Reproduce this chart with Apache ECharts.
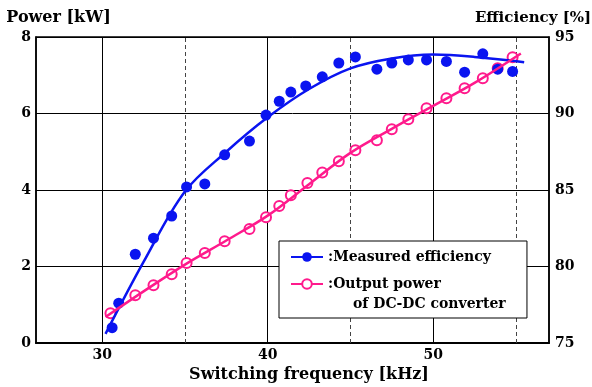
<!DOCTYPE html>
<html>
<head>
<meta charset="utf-8">
<script src="https://cdn.jsdelivr.net/npm/echarts@6/dist/echarts.min.js"></script>
<style>
  html, body { margin: 0; padding: 0; background: #fff; }
  #chart { width: 592px; height: 387px; }
</style>
</head>
<body>
<div id="chart"></div>
<script>
// measured efficiency [%] vs switching frequency [kHz]
var effFreq = [30.6, 31.0, 32.0, 33.1, 34.2, 35.1, 36.2, 37.4, 38.9, 39.9, 40.7, 41.4, 42.3, 43.3, 44.3, 45.3, 46.6, 47.5, 48.5, 49.6, 50.8, 51.9, 53.0, 53.9, 54.8];
var effValues = [76.0, 77.6, 80.8, 81.85, 83.3, 85.2, 85.4, 87.3, 88.2, 89.9, 90.8, 91.4, 91.8, 92.4, 93.3, 93.7, 92.9, 93.3, 93.5, 93.5, 93.4, 92.7, 93.9, 92.9, 92.75];
// fitted efficiency curve
var effFitFreq = [30.2, 32.5, 35.0, 37.5, 40.0, 42.5, 45.0, 47.5, 50.0, 52.5, 55.5];
var effFitValues = [75.6, 80.3, 84.9, 87.5, 89.75, 91.6, 92.95, 93.6, 93.85, 93.7, 93.35];
// output power [kW] of DC-DC converter
var powFreq = [30.5, 32.0, 33.1, 34.2, 35.1, 36.2, 37.4, 38.9, 39.9, 40.7, 41.4, 42.4, 43.3, 44.3, 45.3, 46.6, 47.5, 48.5, 49.6, 50.8, 51.9, 53.0, 53.9, 54.8];
var powValues = [0.78, 1.25, 1.51, 1.80, 2.09, 2.35, 2.66, 2.98, 3.29, 3.58, 3.86, 4.18, 4.46, 4.75, 5.04, 5.30, 5.59, 5.85, 6.14, 6.40, 6.66, 6.92, 7.18, 7.47];
// fitted power curve
var powFitFreq = [30.2, 32.5, 35.0, 37.5, 40.0, 42.5, 45.0, 47.5, 50.0, 52.5, 55.3];
var powFitValues = [0.68, 1.35, 2.05, 2.68, 3.33, 4.15, 4.97, 5.6, 6.2, 6.8, 7.57];

var xLabels = [30, 40, 50];
var solidGrid = [30, 40, 50];
var dashedGrid = [35, 45, 55];

var BLUE = '#0a14f0';
var PINK = '#ff1a8c';
var FONT = 'DejaVu Serif';

function pairs(xs, ys) {
  return xs.map(function (x, i) { return [x, ys[i]]; });
}

var chart = echarts.init(document.getElementById('chart'));

var option = {
  animation: false,
  grid: {
    left: 36, right: 43, top: 37, bottom: 44,
    outerBoundsMode: 'none',
    show: true, borderColor: '#000', borderWidth: 1.5
  },
  legend: {
    orient: 'vertical',
    left: 279, top: 241,
    itemWidth: 32, itemHeight: 12, itemGap: 13,
    padding: [9, 36, 27, 11],
    backgroundColor: '#fff',
    borderColor: '#000',
    borderWidth: 1,
    selectedMode: false,
    data: ['Measured efficiency', 'Output power'],
    formatter: function (name) { return ':' + name; },
    textStyle: { fontFamily: FONT, fontWeight: 'bold', fontSize: 14, color: '#000' }
  },
  graphic: [{
    type: 'text', left: 353, top: 297, z: 100,
    style: { text: 'of DC-DC converter', font: 'bold 14px "DejaVu Serif"', fill: '#000' }
  }],
  xAxis: {
    type: 'value', min: 26, max: 57,
    name: 'Switching frequency [kHz]',
    nameLocation: 'middle', nameGap: 23,
    nameTextStyle: { fontFamily: FONT, fontWeight: 'bold', fontSize: 16, color: '#000', padding: [0, 0, 0, 33] },
    axisLine: { lineStyle: { color: '#000', width: 2 } },
    axisTick: { show: false },
    splitLine: { show: false },
    axisLabel: { customValues: xLabels, fontFamily: FONT, fontWeight: 'bold', fontSize: 14, color: '#000', margin: 5 }
  },
  yAxis: [{
    type: 'value', min: 0, max: 8, interval: 2,
    name: 'Power [kW]', nameLocation: 'end', nameGap: 11,
    nameTextStyle: { fontFamily: FONT, fontWeight: 'bold', fontSize: 16, color: '#000', padding: [0, 0, 0, 45] },
    axisLine: { show: true, lineStyle: { color: '#000', width: 1.5 } },
    axisTick: { show: false },
    splitLine: { lineStyle: { color: '#000', width: 1 } },
    axisLabel: { fontFamily: FONT, fontWeight: 'bold', fontSize: 14, color: '#000', margin: 5 }
  }, {
    type: 'value', min: 75, max: 95, interval: 5,
    name: 'Efficiency [%]', nameLocation: 'end', nameGap: 11,
    nameTextStyle: { fontFamily: FONT, fontWeight: 'bold', fontSize: 15, color: '#000', padding: [0, 32, 0, 0] },
    axisLine: { show: true, lineStyle: { color: '#000', width: 1.5 } },
    axisTick: { show: false },
    splitLine: { show: false },
    axisLabel: { fontFamily: FONT, fontWeight: 'bold', fontSize: 14, color: '#000', margin: 6 }
  }],
  series: [{
    name: 'Measured efficiency',
    type: 'line', yAxisIndex: 1, smooth: 0.35,
    symbol: 'circle', showSymbol: false,
    itemStyle: { color: BLUE },
    lineStyle: { color: BLUE, width: 2.5 },
    data: pairs(effFitFreq, effFitValues),
    markLine: {
      silent: true, symbol: 'none', z: 1, label: { show: false },
      data: solidGrid.map(function (v) {
        return { xAxis: v, lineStyle: { color: '#000', width: 1, type: 'solid' } };
      }).concat(dashedGrid.map(function (v) {
        return { xAxis: v, lineStyle: { color: '#444', width: 1, type: [4, 3] } };
      }))
    }
  }, {
    name: 'Output power',
    type: 'line', yAxisIndex: 0, smooth: 0.35,
    symbol: 'emptyCircle', showSymbol: false,
    itemStyle: { color: PINK },
    lineStyle: { color: PINK, width: 2.5 },
    data: pairs(powFitFreq, powFitValues)
  }, {
    name: 'Output power',
    type: 'scatter', yAxisIndex: 0,
    symbol: 'circle', symbolSize: 10,
    itemStyle: { color: '#fff', borderColor: PINK, borderWidth: 2, opacity: 1 },
    data: pairs(powFreq, powValues)
  }, {
    name: 'Measured efficiency',
    type: 'scatter', yAxisIndex: 1,
    symbol: 'circle', symbolSize: 11,
    itemStyle: { color: BLUE, opacity: 1 },
    data: pairs(effFreq, effValues)
  }]
};

chart.setOption(option);
</script>
</body>
</html>
